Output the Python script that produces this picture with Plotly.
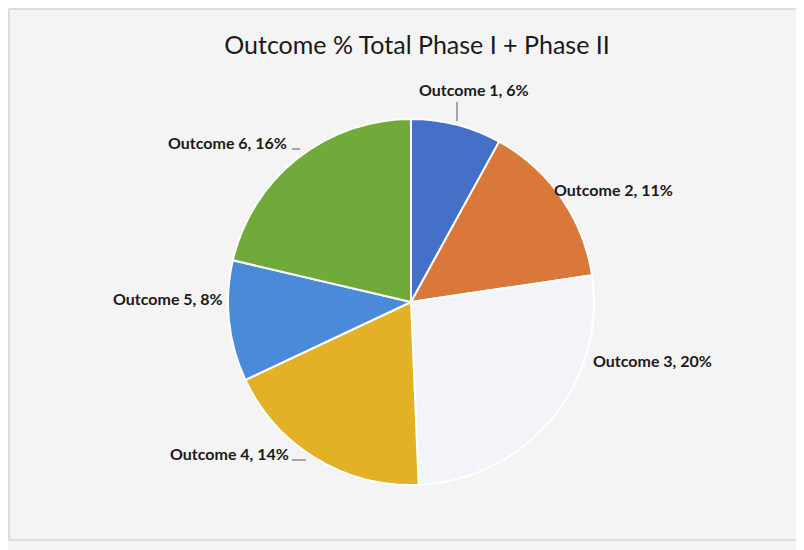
import plotly.graph_objects as go

categories = ["Outcome 1", "Outcome 2", "Outcome 3", "Outcome 4", "Outcome 5", "Outcome 6"]
percent_values = [6, 11, 20, 14, 8, 16]
slice_colors = ["#4470C8", "#D9783A", "#F3F4F9", "#E2B126", "#4A8AD8", "#6FAA3A"]

# layout (pixel positions in the 804x550 picture) of the data labels, Excel style
label_pos = [(474, 90), (613, 189), (652, 360), (229, 453), (168, 298), (228, 142)]

W, H = 804, 550
OFF = 8  # page body margin offset
cx, cy, r = 411, 302, 183


def px(x):
    return (x - OFF) / W


def py(y):
    return 1 - (y - OFF) / H


fig = go.Figure(go.Pie(
    labels=categories,
    values=percent_values,
    sort=False,
    direction="clockwise",
    rotation=0,
    marker=dict(colors=slice_colors, line=dict(color="#FFFFFF", width=2)),
    textinfo="none",
    hoverinfo="label+value",
    showlegend=False,
    domain=dict(x=[px(cx - r), px(cx + r)], y=[py(cy + r), py(cy - r)]),
))

label_font = dict(family="Lato, Open Sans, sans-serif", size=16, color="#1a1a1a", weight="bold")
annotations = []
for cat, val, (lx, ly) in zip(categories, percent_values, label_pos):
    annotations.append(dict(
        text=f"{cat}, {val}%", x=px(lx), y=py(ly), xref="paper", yref="paper",
        xanchor="center", yanchor="middle", showarrow=False, font=label_font,
    ))

leader = dict(color="#555555", width=1)
shapes = [
    dict(type="rect", xref="paper", yref="paper",
         x0=px(9), x1=px(800), y0=py(540), y1=py(9),
         line=dict(color="#C8C8C8", width=1)),
    dict(type="line", xref="paper", yref="paper", x0=px(457), x1=px(457), y0=py(102), y1=py(121), line=leader),
    dict(type="line", xref="paper", yref="paper", x0=px(292), x1=px(300), y0=py(149), y1=py(149), line=leader),
    dict(type="line", xref="paper", yref="paper", x0=px(292), x1=px(306), y0=py(460), y1=py(460), line=leader),
]

fig.update_layout(
    width=W, height=H,
    margin=dict(l=0, r=0, t=0, b=0),
    paper_bgcolor="#F4F4F4",
    plot_bgcolor="#F4F4F4",
    title=dict(
        text="Outcome % Total Phase I + Phase II",
        x=px(417), xanchor="center", y=py(45), yanchor="middle",
        font=dict(family="Lato, Open Sans, sans-serif", size=25, color="#1a1a1a"),
    ),
    annotations=annotations,
    shapes=shapes,
)

fig.write_html("out.html")
